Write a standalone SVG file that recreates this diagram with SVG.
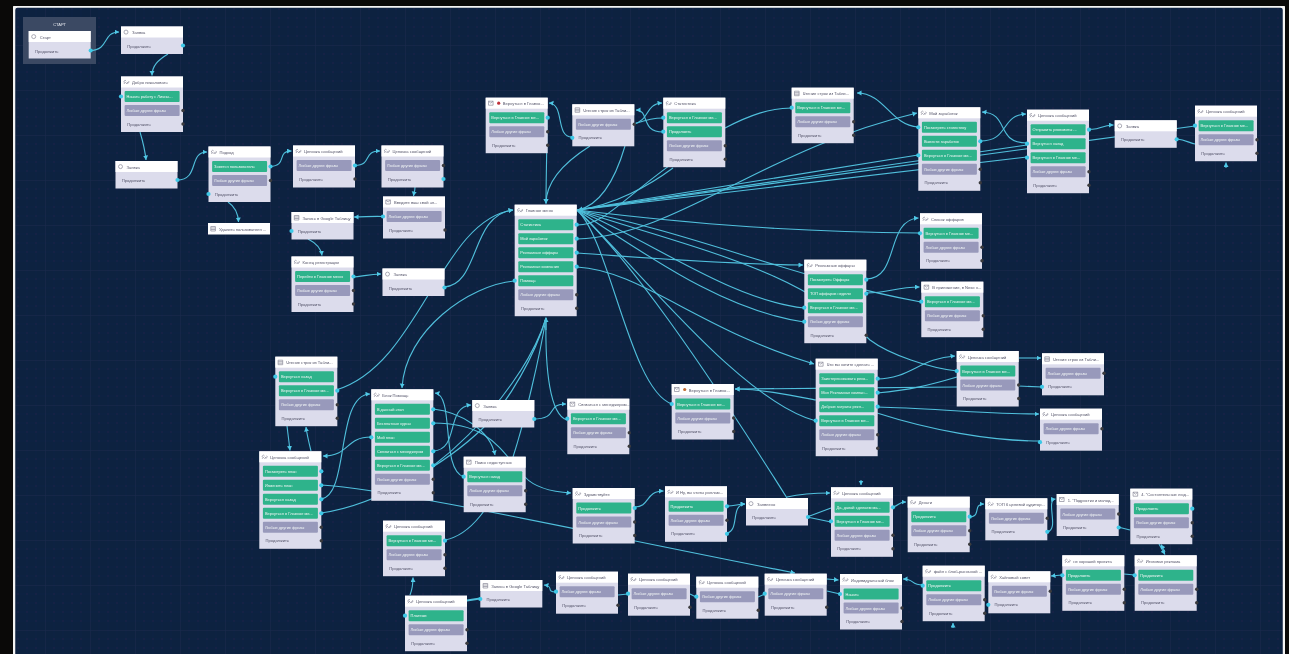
<svg xmlns="http://www.w3.org/2000/svg" width="1289" height="654" viewBox="0 0 1289 654">
<style>
.t{font:4.1px "Liberation Sans",Arial,sans-serif;fill:#55556a}
.b{font:3.95px "Liberation Sans",Arial,sans-serif;fill:#f2f6f6;transform:translateX(-1.4px)}
.k{font:4.1px "Liberation Sans",Arial,sans-serif;fill:#55556a;transform:translateX(-.7px)}
.d{fill:#3a3a3e;r:1.7px}
.c{fill:#3cc8e6;r:2.1px}
.l{fill:none;stroke:#4fc0dc;stroke-width:1.1}
.a{marker-end:url(#ar)}
.i{fill:none;stroke:#8a8a9a;stroke-width:.7}
</style>
<defs>
<pattern id="gr" width="45" height="45" patternUnits="userSpaceOnUse"><rect width="45" height="45" fill="#102241"/><path d="M9 0V45M18 0V45M27 0V45M36 0V45M0 9H45M0 18H45M0 27H45M0 36H45" stroke="#142746" stroke-width=".5"/><path d="M0 0V45M0 0H45" stroke="#1c3154" stroke-width=".6"/></pattern>
<filter id="bl" x="0" y="0" width="100%" height="100%"><feGaussianBlur stdDeviation=".42"/></filter>
<marker id="ar" markerUnits="userSpaceOnUse" markerWidth="6" markerHeight="6" refX="4.5" refY="2.5" orient="auto"><path d="M0 0L4.5 2.5L0 5z" fill="#4fc8e6"/></marker>
<g id="f0"><rect width="62" height="27.5" fill="#dcdcec"/><rect width="62" height="11" fill="#fff"/></g>
<g id="f1"><rect width="62" height="42" fill="#dcdcec"/><rect width="62" height="11" fill="#fff"/></g>
<g id="f2"><rect width="62" height="55.5" fill="#dcdcec"/><rect width="62" height="11" fill="#fff"/></g>
<g id="f3"><rect width="62" height="69.5" fill="#dcdcec"/><rect width="62" height="11" fill="#fff"/></g>
<g id="f4"><rect width="62" height="83.5" fill="#dcdcec"/><rect width="62" height="11" fill="#fff"/></g>
<g id="f5"><rect width="62" height="97.5" fill="#dcdcec"/><rect width="62" height="11" fill="#fff"/></g>
<g id="f6"><rect width="62" height="111.5" fill="#dcdcec"/><rect width="62" height="11" fill="#fff"/></g>
<rect id="g" x="3.6" width="55" height="11" rx="1" fill="#2fb38b"/>
<rect id="p" x="3.6" width="55" height="11" rx="1" fill="#9899bb"/>
<path id="il" class="i" d="M2.8 7.5L5 5.3M5 7.5L7 5.5M3.5 6.3a1.2 1.2 0 0 1 1.5-2.2M5.8 6.6a1.2 1.2 0 0 0 1.5-2.2"/>
<path id="it" class="i" d="M2.8 3.5h4.6v4.500h-4.600zM2.8 5h4.6M2.8 6.5h4.6"/>
<path id="im" class="i" d="M2.8 3.5h4.6v4h-4.600zM2.8 3.5l2.3 2l2.3-2"/>
<circle id="io" class="i" cx="5" cy="5.6" r="2"/>
</defs>
<rect width="1289" height="654" fill="#0a0908"/>
<g filter="url(#bl)">
<rect x="13.5" y="6" width="1271" height="670" rx="4" fill="url(#gr)" stroke="#f4f4f4" stroke-width="3.5"/>
<rect x="23" y="17" width="73" height="47" fill="#3b4a64"/>
<text x="59.5" y="25.5" text-anchor="middle" style="font:4px 'Liberation Sans',Arial,sans-serif;fill:#e6e8ee">СТАРТ</text>
<g id="connectors">
<path class="l a" d="M90 50.5C110 50 102 32 119 32"/>
<path class="l a" d="M168 54C158 60 152 66 152 75.5"/>
<path class="l a" d="M140 132C143 142 145 150 146 160"/>
<path class="l a" d="M177 180C200 180 188 152 207 152"/>
<path class="l a" d="M270 166.500C288 166 276 151 291.500 151"/>
<path class="l a" d="M355 165.500C373 165 362 151 380 151"/>
<path class="l a" d="M415 187C415 191 414 193 413.500 196"/>
<path class="l a" d="M383 216.500C372 216 365 217 354 217"/>
<path class="l a" d="M228 202C234 206 238 212 238.500 222"/>
<path class="l a" d="M308 239C316 243 321 248 322 255.500"/>
<path class="l a" d="M352 277C362 277 368 274 381 274"/>
<path class="l a" d="M336 390C420 365 440 220 513 210"/>
<path class="l a" d="M444 287C480 285 470 215 513 210"/>
<path class="l a" d="M514 281C470 285 405 330 402 388"/>
<path class="l a" d="M547 118C547 150 546 180 546 203.500"/>
<path class="l a" d="M572 137C555 137 565 104 549 103"/>
<path class="l a" d="M590 146C560 165 546 185 546 203.500"/>
<path class="l" d="M634 124C650 120 645 104 662 103" marker-end="url(#ar)"/>
<path class="l a" d="M663 132C640 132 650 110 636 110"/>
<path class="l" d="M663 118C650 118 640 122 634 124"/>
<path class="l" d="M725 128C750 115 770 108 792 108"/>
<path class="l" d="M577 225C610 225 625 190 725 128"/>
<path class="l a" d="M625 146C615 180 600 205 578 210"/>
<path class="l a" d="M673 168C650 185 615 205 578 210"/>
<path class="l a" d="M577 239C680 235 760 150 917 113"/>
<path class="l" d="M577 210L918 155"/>
<path class="l" d="M577 210L1027 145"/>
<path class="l" d="M577 210L1027 157"/>
<path class="l" d="M577 210L1195 126"/>
<path class="l a" d="M918 127C890 125 885 93 857 93"/>
<path class="l a" d="M980 141C1010 141 1000 115 1026 114"/>
<path class="l a" d="M1027 143C995 143 1010 113 982 112"/>
<path class="l a" d="M1089 129C1100 131 1100 125 1113.500 125"/>
<path class="l" d="M1177 139C1185 140 1190 143 1195 144"/>
<path class="l" d="M577 210C700 225 800 232 920 233"/>
<path class="l a" d="M866 279C900 279 885 220 918.500 218"/>
<path class="l a" d="M866 293C890 293 895 287 919.500 287"/>
<path class="l" d="M577 210C700 235 800 280 921 302"/>
<path class="l" d="M577 210C650 240 730 300 804 308"/>
<path class="l" d="M577 210C640 250 720 310 804 322"/>
<path class="l a" d="M577 253C650 258 720 264 803 265"/>
<path class="l a" d="M577 267C640 270 700 330 814 364"/>
<path class="l" d="M577 210C640 270 740 400 816 421"/>
<path class="l" d="M577 210C610 240 630 390 672 404"/>
<path class="l" d="M577 210C630 260 700 360 787 498"/>
<path class="l" d="M577 210C700 250 800 270 870 340C890 355 930 368 957 371"/>
<path class="l a" d="M546 330V317.500"/>
<path class="l" d="M433 466C480 430 530 370 546 318"/>
<path class="l" d="M321 513C380 505 450 460 483 428C510 400 535 355 546 318"/>
<path class="l" d="M445 540C470 535 490 510 513 457C525 420 540 355 546 318"/>
<path class="l" d="M567 420C550 415 545 370 546 318"/>
<path class="l a" d="M433 409C460 412 490 430 495 455"/>
<path class="l a" d="M433 423C490 423 500 450 525 477C535 488 555 492 571 493"/>
<path class="l a" d="M464 477C440 470 455 395 435 393"/>
<path class="l a" d="M433 451C460 450 445 407 471 405"/>
<path class="l a" d="M533 419C560 419 545 404 566 404"/>
<path class="l a" d="M371 437C345 437 350 456 323 456"/>
<path class="l a" d="M321 499C350 495 335 395 370 394"/>
<path class="l a" d="M287 426C288 434 289 442 290 450.500"/>
<path class="l a" d="M311 451C309 443 307 435 306 427"/>
<path class="l a" d="M321 485C400 490 600 535 795 573"/>
<path class="l a" d="M410 595C412 590 413 585 413 577.500"/>
<path class="l" d="M467 601L480 599M467 600L480 598" stroke-width="1.5"/>
<path class="l a" d="M556 592C545 592 555 586 544 585"/>
<path class="l" d="M618 595L628 594"/>
<path class="l" d="M690 594L696 597"/>
<path class="l" d="M758 597L765 594"/>
<path class="l a" d="M827 579L838.500 580"/>
<path class="l" d="M827 591L840 594"/>
<path class="l a" d="M923 585C910 585 915 579 903 579"/>
<path class="l a" d="M1062 575L1051 576"/>
<path class="l" d="M1135 575L1124 574"/>
<path class="l a" d="M1159 544L1165 554.500"/>
<path class="l a" d="M1165 552L1161 544.500"/>
<path class="l" d="M1130 530L1118 527"/>
<path class="l a" d="M1047 532C1060 530 1045 500 1055.500 499"/>
<path class="l a" d="M969 517C982 517 972 504 984 504"/>
<path class="l a" d="M893 507C900 505 898 502 906 502"/>
<path class="l" d="M807 517L831 508M807 517L831 522"/>
<path class="l a" d="M787 497C800 494 815 493 830 493"/>
<path class="l a" d="M727 506C735 506 738 504 745 504"/>
<path class="l a" d="M727 533C740 530 730 505 745 504"/>
<path class="l a" d="M635 507C650 507 645 491 663.500 491"/>
<path class="l a" d="M877 379C910 379 920 358 955 356"/>
<path class="l" d="M877 393C910 390 930 385 957 377"/>
<path class="l" d="M1019 386L1042 387" stroke-width="1.5"/>
<path class="l a" d="M1019 358L1041 358"/>
<path class="l a" d="M877 407C930 408 980 414 1039 414"/>
<path class="l" d="M877 413C930 430 990 441 1040 441"/>
<path class="l a" d="M957 387C900 387 800 389 735 389"/>
<path class="l a" d="M816 400C790 395 760 389 735 389"/>
<path class="l a" d="M1226 168V162.500"/>
<path class="l a" d="M861 480V485"/>
<path class="l a" d="M953 628V623"/>
</g>
<g id="n1" transform="translate(28.700 31)"><use href="#f0"/><use href="#io"/><text class="t" x="11" y="7.500">Старт</text><text class="k" x="7" y="21.500">Продолжить</text><circle class="c" cx="62" cy="19.500"/></g>
<g id="n2" transform="translate(121 26.500)"><use href="#f0"/><use href="#io"/><text class="t" x="11" y="7.500">Заявка</text><text class="k" x="7" y="21">Продолжить</text><circle class="c" cx="62" cy="19"/></g>
<g id="n3" transform="translate(121 76.500)"><use href="#f2"/><use href="#il"/><text class="t" x="11" y="7.500">Добро пожаловать</text><use href="#g" y="14.500"/><text class="b" x="7" y="21.700">Начать работу с Личны...</text><use href="#p" y="28.500"/><text class="b" x="7" y="35.700">Любые другие фразы</text><text class="k" x="7" y="49.200">Продолжить</text><circle class="c" cx="0" cy="20"/><circle class="d" cx="62" cy="34"/><circle class="d" cx="62" cy="47.500"/></g>
<g id="n4" transform="translate(115.500 161)"><use href="#f0"/><use href="#io"/><text class="t" x="11" y="7.500">Заявка</text><text class="k" x="7" y="21">Продолжить</text><circle class="c" cx="62" cy="19"/></g>
<g id="n5" transform="translate(208.500 146.500)"><use href="#f2"/><use href="#il"/><text class="t" x="11" y="7.500">Подход</text><use href="#g" y="14.500"/><text class="b" x="7" y="21.700">Зовется пользователь</text><use href="#p" y="28.500"/><text class="b" x="7" y="35.700">Любые другие фразы</text><text class="k" x="7" y="49.200">Продолжить</text><circle class="c" cx="62" cy="20"/><circle class="d" cx="62" cy="34"/><circle class="c" cx="0" cy="47.500"/></g>
<g id="n6" transform="translate(293 145.500)"><use href="#f1"/><use href="#il"/><text class="t" x="11" y="7.500">Цепочка сообщений</text><use href="#p" y="14.500"/><text class="b" x="7" y="21.700">Любые другие фразы</text><text class="k" x="7" y="35.200">Продолжить</text><circle class="c" cx="62" cy="20"/><circle class="d" cx="62" cy="33.500"/></g>
<g id="n7" transform="translate(381.500 145.500)"><use href="#f1"/><use href="#il"/><text class="t" x="11" y="7.500">Цепочка сообщений</text><use href="#p" y="14.500"/><text class="b" x="7" y="21.700">Любые другие фразы</text><text class="k" x="7" y="35.200">Продолжить</text><circle class="d" cx="62" cy="20"/><circle class="c" cx="62" cy="33.500"/></g>
<g id="n8" transform="translate(383 196.500)"><use href="#f1"/><use href="#im"/><text class="t" x="11" y="7.500">Введите ваш свой эл...</text><use href="#p" y="14.500"/><text class="b" x="7" y="21.700">Любые другие фразы</text><text class="k" x="7" y="35.200">Продолжить</text><circle class="c" cx="0" cy="20"/><circle class="d" cx="62" cy="33.500"/></g>
<g id="n9" transform="translate(208 223)"><rect width="62" height="11.500" fill="#fff"/><use href="#it"/><text class="t" x="11" y="7.500">Удалить пользователя ...</text></g>
<g id="n10" transform="translate(291.500 212)"><use href="#f0"/><use href="#it"/><text class="t" x="11" y="7.500">Запись в Google Таблицу</text><text class="k" x="7" y="21">Продолжить</text><circle class="c" cx="0" cy="19"/></g>
<g id="n11" transform="translate(291.500 256.500)"><use href="#f2"/><use href="#il"/><text class="t" x="11" y="7.500">Конец регистрации</text><use href="#g" y="14.500"/><text class="b" x="7" y="21.700">Перейти в Главное меню</text><use href="#p" y="28.500"/><text class="b" x="7" y="35.700">Любые другие фразы</text><text class="k" x="7" y="49.200">Продолжить</text><circle class="c" cx="62" cy="20"/><circle class="d" cx="62" cy="34"/><circle class="d" cx="62" cy="47.500"/></g>
<g id="n12" transform="translate(382.500 268.500)"><use href="#f0"/><use href="#io"/><text class="t" x="11" y="7.500">Заявка</text><text class="k" x="7" y="21">Продолжить</text><circle class="c" cx="62" cy="19"/></g>
<g id="n13" transform="translate(485.700 97.700)"><use href="#f2"/><use href="#im"/><circle cx="13" cy="5.500" r="1.600" fill="#c0303a"/><text class="t" x="17" y="7.500">Вернуться в Главно...</text><use href="#g" y="14.500"/><text class="b" x="7" y="21.700">Вернуться в Главное ме...</text><use href="#p" y="28.500"/><text class="b" x="7" y="35.700">Любые другие фразы</text><text class="k" x="7" y="49.200">Продолжить</text><circle class="c" cx="62" cy="20"/><circle class="d" cx="62" cy="34"/><circle class="d" cx="62" cy="47.500"/></g>
<g id="n14" transform="translate(572.300 104.300)"><use href="#f1"/><use href="#it"/><text class="t" x="11" y="7.500">Чтение строк из Табли...</text><use href="#p" y="14.500"/><text class="b" x="7" y="21.700">Любые другие фразы</text><text class="k" x="7" y="35.200">Продолжить</text><circle class="d" cx="62" cy="20"/><circle class="c" cx="0" cy="33.500"/></g>
<g id="n15" transform="translate(663.300 97.700)"><use href="#f3"/><use href="#il"/><text class="t" x="11" y="7.500">Статистика</text><use href="#g" y="14.500"/><text class="b" x="7" y="21.700">Вернуться в Главное ме...</text><use href="#g" y="28.500"/><text class="b" x="7" y="35.700">Продолжить</text><use href="#p" y="42.500"/><text class="b" x="7" y="49.700">Любые другие фразы</text><text class="k" x="7" y="63.200">Продолжить</text><circle class="c" cx="0" cy="20"/><circle class="c" cx="0" cy="34"/><circle class="d" cx="62" cy="48"/><circle class="d" cx="62" cy="61.500"/></g>
<g id="n16" transform="translate(791.700 87.700)"><use href="#f2"/><use href="#it"/><text class="t" x="11" y="7.500">Чтение строк из Табли...</text><use href="#g" y="14.500"/><text class="b" x="7" y="21.700">Вернуться в Главное ме...</text><use href="#p" y="28.500"/><text class="b" x="7" y="35.700">Любые другие фразы</text><text class="k" x="7" y="49.200">Продолжить</text><circle class="c" cx="0" cy="20"/><circle class="d" cx="62" cy="34"/><circle class="d" cx="62" cy="47.500"/></g>
<g id="n17" transform="translate(514.700 204.700)"><use href="#f6"/><use href="#il"/><text class="t" x="11" y="7.500">Главное меню</text><use href="#g" y="14.500"/><text class="b" x="7" y="21.700">Статистика</text><use href="#g" y="28.500"/><text class="b" x="7" y="35.700">Мой заработок</text><use href="#g" y="42.500"/><text class="b" x="7" y="49.700">Рекламные оффары</text><use href="#g" y="56.500"/><text class="b" x="7" y="63.700">Рекламная компания</text><use href="#g" y="70.500"/><text class="b" x="7" y="77.700">Помощь</text><use href="#p" y="84.500"/><text class="b" x="7" y="91.700">Любые другие фразы</text><text class="k" x="7" y="105.200">Продолжить</text><circle class="c" cx="62" cy="20"/><circle class="c" cx="62" cy="34"/><circle class="c" cx="62" cy="48"/><circle class="c" cx="62" cy="62"/><circle class="c" cx="0" cy="76"/><circle class="d" cx="62" cy="90"/><circle class="d" cx="62" cy="103.500"/></g>
<g id="n18" transform="translate(804.300 259.700)"><use href="#f4"/><use href="#il"/><text class="t" x="11" y="7.500">Рекламные оффары</text><use href="#g" y="14.500"/><text class="b" x="7" y="21.700">Посмотреть Оффары</text><use href="#g" y="28.500"/><text class="b" x="7" y="35.700">ТОП оффаров недели</text><use href="#g" y="42.500"/><text class="b" x="7" y="49.700">Вернуться в Главное ме...</text><use href="#p" y="56.500"/><text class="b" x="7" y="63.700">Любые другие фразы</text><text class="k" x="7" y="77.200">Продолжить</text><circle class="c" cx="62" cy="20"/><circle class="c" cx="62" cy="34"/><circle class="c" cx="0" cy="48"/><circle class="c" cx="0" cy="62"/><circle class="d" cx="62" cy="75.500"/></g>
<g id="n19" transform="translate(918.300 107.300)"><use href="#f4"/><use href="#il"/><text class="t" x="11" y="7.500">Мой заработок</text><use href="#g" y="14.500"/><text class="b" x="7" y="21.700">Посмотреть статистику</text><use href="#g" y="28.500"/><text class="b" x="7" y="35.700">Вывести заработок</text><use href="#g" y="42.500"/><text class="b" x="7" y="49.700">Вернуться в Главное ме...</text><use href="#p" y="56.500"/><text class="b" x="7" y="63.700">Любые другие фразы</text><text class="k" x="7" y="77.200">Продолжить</text><circle class="c" cx="0" cy="20"/><circle class="c" cx="62" cy="34"/><circle class="c" cx="0" cy="48"/><circle class="d" cx="62" cy="62"/><circle class="d" cx="62" cy="75.500"/></g>
<g id="n20" transform="translate(1027 109.700)"><use href="#f4"/><use href="#il"/><text class="t" x="11" y="7.500">Цепочка сообщений</text><use href="#g" y="14.500"/><text class="b" x="7" y="21.700">Отправить реквизиты ...</text><use href="#g" y="28.500"/><text class="b" x="7" y="35.700">Вернуться назад</text><use href="#g" y="42.500"/><text class="b" x="7" y="49.700">Вернуться в Главное ме...</text><use href="#p" y="56.500"/><text class="b" x="7" y="63.700">Любые другие фразы</text><text class="k" x="7" y="77.200">Продолжить</text><circle class="c" cx="62" cy="20"/><circle class="c" cx="0" cy="34"/><circle class="c" cx="0" cy="48"/><circle class="d" cx="62" cy="62"/><circle class="d" cx="62" cy="75.500"/></g>
<g id="n21" transform="translate(1114.700 120.300)"><use href="#f0"/><use href="#io"/><text class="t" x="11" y="7.500">Заявка</text><text class="k" x="7" y="21">Продолжить</text><circle class="c" cx="62" cy="19"/></g>
<g id="n22" transform="translate(1195 105.700)"><use href="#f2"/><use href="#il"/><text class="t" x="11" y="7.500">Цепочка сообщений</text><use href="#g" y="14.500"/><text class="b" x="7" y="21.700">Вернуться в Главное ме...</text><use href="#p" y="28.500"/><text class="b" x="7" y="35.700">Любые другие фразы</text><text class="k" x="7" y="49.200">Продолжить</text><circle class="c" cx="0" cy="20"/><circle class="d" cx="62" cy="34"/><circle class="d" cx="62" cy="47.500"/></g>
<g id="n23" transform="translate(920 213.300)"><use href="#f2"/><use href="#il"/><text class="t" x="11" y="7.500">Список оффаров</text><use href="#g" y="14.500"/><text class="b" x="7" y="21.700">Вернуться в Главное ме...</text><use href="#p" y="28.500"/><text class="b" x="7" y="35.700">Любые другие фразы</text><text class="k" x="7" y="49.200">Продолжить</text><circle class="c" cx="0" cy="20"/><circle class="d" cx="62" cy="34"/><circle class="d" cx="62" cy="47.500"/></g>
<g id="n24" transform="translate(921.300 281.700)"><use href="#f2"/><use href="#im"/><text class="t" x="11" y="7.500">В приложение, в Nexo н...</text><use href="#g" y="14.500"/><text class="b" x="7" y="21.700">Вернуться в Главное ме...</text><use href="#p" y="28.500"/><text class="b" x="7" y="35.700">Любые другие фразы</text><text class="k" x="7" y="49.200">Продолжить</text><circle class="c" cx="0" cy="20"/><circle class="d" cx="62" cy="34"/><circle class="d" cx="62" cy="47.500"/></g>
<g id="n25" transform="translate(275.300 356.700)"><use href="#f3"/><use href="#it"/><text class="t" x="11" y="7.500">Чтение строк из Табли...</text><use href="#g" y="14.500"/><text class="b" x="7" y="21.700">Вернуться назад</text><use href="#g" y="28.500"/><text class="b" x="7" y="35.700">Вернуться в Главное ме...</text><use href="#p" y="42.500"/><text class="b" x="7" y="49.700">Любые другие фразы</text><text class="k" x="7" y="63.200">Продолжить</text><circle class="c" cx="0" cy="20"/><circle class="c" cx="62" cy="34"/><circle class="d" cx="62" cy="48"/><circle class="d" cx="62" cy="61.500"/></g>
<g id="n26" transform="translate(371.300 389.300)"><use href="#f6"/><use href="#il"/><text class="t" x="11" y="7.500">Блок Помощь</text><use href="#g" y="14.500"/><text class="b" x="7" y="21.700">В данный этап</text><use href="#g" y="28.500"/><text class="b" x="7" y="35.700">Бесплатные курсы</text><use href="#g" y="42.500"/><text class="b" x="7" y="49.700">Мой план</text><use href="#g" y="56.500"/><text class="b" x="7" y="63.700">Связаться с менеджером</text><use href="#g" y="70.500"/><text class="b" x="7" y="77.700">Вернуться в Главное ме...</text><use href="#p" y="84.500"/><text class="b" x="7" y="91.700">Любые другие фразы</text><text class="k" x="7" y="105.200">Продолжить</text><circle class="c" cx="62" cy="20"/><circle class="c" cx="62" cy="34"/><circle class="c" cx="0" cy="48"/><circle class="c" cx="62" cy="62"/><circle class="c" cx="62" cy="76"/><circle class="d" cx="62" cy="90"/><circle class="d" cx="62" cy="103.500"/></g>
<g id="n27" transform="translate(472.300 400)"><use href="#f0"/><use href="#io"/><text class="t" x="11" y="7.500">Заявка</text><text class="k" x="7" y="21">Продолжить</text><circle class="c" cx="62" cy="19"/></g>
<g id="n28" transform="translate(567.300 398.700)"><use href="#f2"/><use href="#im"/><text class="t" x="11" y="7.500">Связаться с менеджером...</text><use href="#g" y="14.500"/><text class="b" x="7" y="21.700">Вернуться в Главное ме...</text><use href="#p" y="28.500"/><text class="b" x="7" y="35.700">Любые другие фразы</text><text class="k" x="7" y="49.200">Продолжить</text><circle class="c" cx="0" cy="20"/><circle class="d" cx="62" cy="34"/><circle class="d" cx="62" cy="47.500"/></g>
<g id="n29" transform="translate(259.300 451.300)"><use href="#f5"/><use href="#il"/><text class="t" x="11" y="7.500">Цепочка сообщений</text><use href="#g" y="14.500"/><text class="b" x="7" y="21.700">Посмотреть план</text><use href="#g" y="28.500"/><text class="b" x="7" y="35.700">Изменить план</text><use href="#g" y="42.500"/><text class="b" x="7" y="49.700">Вернуться назад</text><use href="#g" y="56.500"/><text class="b" x="7" y="63.700">Вернуться в Главное ме...</text><use href="#p" y="70.500"/><text class="b" x="7" y="77.700">Любые другие фразы</text><text class="k" x="7" y="91.200">Продолжить</text><circle class="c" cx="62" cy="20"/><circle class="c" cx="62" cy="34"/><circle class="c" cx="62" cy="48"/><circle class="c" cx="62" cy="62"/><circle class="d" cx="62" cy="76"/><circle class="d" cx="62" cy="89.500"/></g>
<g id="n30" transform="translate(463.700 456.700)"><use href="#f2"/><use href="#im"/><text class="t" x="11" y="7.500">Поиск недоступных</text><use href="#g" y="14.500"/><text class="b" x="7" y="21.700">Вернуться назад</text><use href="#p" y="28.500"/><text class="b" x="7" y="35.700">Любые другие фразы</text><text class="k" x="7" y="49.200">Продолжить</text><circle class="c" cx="0" cy="20"/><circle class="d" cx="62" cy="34"/><circle class="d" cx="62" cy="47.500"/></g>
<g id="n31" transform="translate(572.700 488)"><use href="#f2"/><use href="#il"/><text class="t" x="11" y="7.500">Здравствуйте</text><use href="#g" y="14.500"/><text class="b" x="7" y="21.700">Продолжить</text><use href="#p" y="28.500"/><text class="b" x="7" y="35.700">Любые другие фразы</text><text class="k" x="7" y="49.200">Продолжить</text><circle class="c" cx="62" cy="20"/><circle class="d" cx="62" cy="34"/><circle class="d" cx="62" cy="47.500"/></g>
<g id="n32" transform="translate(383 520.700)"><use href="#f2"/><use href="#il"/><text class="t" x="11" y="7.500">Цепочка сообщений</text><use href="#g" y="14.500"/><text class="b" x="7" y="21.700">Вернуться в Главное ме...</text><use href="#p" y="28.500"/><text class="b" x="7" y="35.700">Любые другие фразы</text><text class="k" x="7" y="49.200">Продолжить</text><circle class="c" cx="62" cy="20"/><circle class="d" cx="62" cy="34"/><circle class="d" cx="62" cy="47.500"/></g>
<g id="n33" transform="translate(405 595.700)"><use href="#f2"/><use href="#il"/><text class="t" x="11" y="7.500">Цепочка сообщений</text><use href="#g" y="14.500"/><text class="b" x="7" y="21.700">Платежи</text><use href="#p" y="28.500"/><text class="b" x="7" y="35.700">Любые другие фразы</text><text class="k" x="7" y="49.200">Продолжить</text><circle class="c" cx="0" cy="20"/><circle class="d" cx="62" cy="34"/><circle class="d" cx="62" cy="47.500"/></g>
<g id="n34" transform="translate(480.300 580)"><use href="#f0"/><use href="#it"/><text class="t" x="11" y="7.500">Запись в Google Таблицу</text><text class="k" x="7" y="21">Продолжить</text><circle class="c" cx="0" cy="19"/></g>
<g id="n35" transform="translate(556 571.700)"><use href="#f1"/><use href="#il"/><text class="t" x="11" y="7.500">Цепочка сообщений</text><use href="#p" y="14.500"/><text class="b" x="7" y="21.700">Любые другие фразы</text><text class="k" x="7" y="35.200">Продолжить</text><circle class="c" cx="0" cy="20"/><circle class="d" cx="62" cy="33.500"/></g>
<g id="n36" transform="translate(628 573.700)"><use href="#f1"/><use href="#il"/><text class="t" x="11" y="7.500">Цепочка сообщений</text><use href="#p" y="14.500"/><text class="b" x="7" y="21.700">Любые другие фразы</text><text class="k" x="7" y="35.200">Продолжить</text><circle class="c" cx="0" cy="20"/><circle class="d" cx="62" cy="33.500"/></g>
<g id="n37" transform="translate(696.300 576.700)"><use href="#f1"/><use href="#il"/><text class="t" x="11" y="7.500">Цепочка сообщений</text><use href="#p" y="14.500"/><text class="b" x="7" y="21.700">Любые другие фразы</text><text class="k" x="7" y="35.200">Продолжить</text><circle class="c" cx="0" cy="20"/><circle class="d" cx="62" cy="33.500"/></g>
<g id="n38" transform="translate(764.700 573.700)"><use href="#f1"/><use href="#il"/><text class="t" x="11" y="7.500">Цепочка сообщений</text><use href="#p" y="14.500"/><text class="b" x="7" y="21.700">Любые другие фразы</text><text class="k" x="7" y="35.200">Продолжить</text><circle class="c" cx="0" cy="20"/><circle class="d" cx="62" cy="33.500"/></g>
<g id="n39" transform="translate(840 574)"><use href="#f2"/><use href="#il"/><text class="t" x="11" y="7.500">Индивидуальный блок</text><use href="#g" y="14.500"/><text class="b" x="7" y="21.700">Начать</text><use href="#p" y="28.500"/><text class="b" x="7" y="35.700">Любые другие фразы</text><text class="k" x="7" y="49.200">Продолжить</text><circle class="c" cx="0" cy="20"/><circle class="d" cx="62" cy="34"/><circle class="d" cx="62" cy="47.500"/></g>
<g id="n40" transform="translate(671.700 384)"><use href="#f2"/><use href="#im"/><circle cx="13" cy="5.500" r="1.600" fill="#c06a30"/><text class="t" x="17" y="7.500">Вернуться в Главно...</text><use href="#g" y="14.500"/><text class="b" x="7" y="21.700">Вернуться в Главное ме...</text><use href="#p" y="28.500"/><text class="b" x="7" y="35.700">Любые другие фразы</text><text class="k" x="7" y="49.200">Продолжить</text><circle class="c" cx="0" cy="20"/><circle class="d" cx="62" cy="34"/><circle class="d" cx="62" cy="47.500"/></g>
<g id="n41" transform="translate(815.700 358.700)"><use href="#f5"/><use href="#im"/><text class="t" x="11" y="7.500">Что вы хотите сделать ...</text><use href="#g" y="14.500"/><text class="b" x="7" y="21.700">Заинтересовывать реко...</text><use href="#g" y="28.500"/><text class="b" x="7" y="35.700">Моя Рекламная компан...</text><use href="#g" y="42.500"/><text class="b" x="7" y="49.700">Добрые затраты рекл...</text><use href="#g" y="56.500"/><text class="b" x="7" y="63.700">Вернуться в Главное ме...</text><use href="#p" y="70.500"/><text class="b" x="7" y="77.700">Любые другие фразы</text><text class="k" x="7" y="91.200">Продолжить</text><circle class="c" cx="62" cy="20"/><circle class="c" cx="62" cy="34"/><circle class="c" cx="62" cy="48"/><circle class="c" cx="0" cy="62"/><circle class="d" cx="62" cy="76"/><circle class="d" cx="62" cy="89.500"/></g>
<g id="n42" transform="translate(956.700 351)"><use href="#f2"/><use href="#il"/><text class="t" x="11" y="7.500">Цепочка сообщений</text><use href="#g" y="14.500"/><text class="b" x="7" y="21.700">Вернуться в Главное ме...</text><use href="#p" y="28.500"/><text class="b" x="7" y="35.700">Любые другие фразы</text><text class="k" x="7" y="49.200">Продолжить</text><circle class="c" cx="0" cy="20"/><circle class="d" cx="62" cy="34"/><circle class="d" cx="62" cy="47.500"/></g>
<g id="n43" transform="translate(1042 353.300)"><use href="#f1"/><use href="#it"/><text class="t" x="11" y="7.500">Чтение строк из Табли...</text><use href="#p" y="14.500"/><text class="b" x="7" y="21.700">Любые другие фразы</text><text class="k" x="7" y="35.200">Продолжить</text><circle class="d" cx="62" cy="20"/><circle class="c" cx="0" cy="33.500"/></g>
<g id="n44" transform="translate(1040 408.700)"><use href="#f1"/><use href="#il"/><text class="t" x="11" y="7.500">Цепочка сообщений</text><use href="#p" y="14.500"/><text class="b" x="7" y="21.700">Любые другие фразы</text><text class="k" x="7" y="35.200">Продолжить</text><circle class="d" cx="62" cy="20"/><circle class="c" cx="0" cy="33.500"/></g>
<g id="n45" transform="translate(665 486.300)"><use href="#f2"/><use href="#il"/><text class="t" x="11" y="7.500">И Ну, вы чтоты роллам...</text><use href="#g" y="14.500"/><text class="b" x="7" y="21.700">Продолжить</text><use href="#p" y="28.500"/><text class="b" x="7" y="35.700">Любые другие фразы</text><text class="k" x="7" y="49.200">Продолжить</text><circle class="c" cx="62" cy="20"/><circle class="d" cx="62" cy="34"/><circle class="c" cx="62" cy="47.500"/></g>
<g id="n46" transform="translate(746 498)"><use href="#f0"/><use href="#io"/><text class="t" x="11" y="7.500">Заявлено</text><text class="k" x="7" y="21">Продолжить</text><circle class="c" cx="62" cy="19"/></g>
<g id="n47" transform="translate(831 487.300)"><use href="#f3"/><use href="#il"/><text class="t" x="11" y="7.500">Цепочка сообщений</text><use href="#g" y="14.500"/><text class="b" x="7" y="21.700">Да, давай сделаем ма...</text><use href="#g" y="28.500"/><text class="b" x="7" y="35.700">Вернуться в Главное ме...</text><use href="#p" y="42.500"/><text class="b" x="7" y="49.700">Любые другие фразы</text><text class="k" x="7" y="63.200">Продолжить</text><circle class="c" cx="62" cy="20"/><circle class="c" cx="0" cy="34"/><circle class="d" cx="62" cy="48"/><circle class="d" cx="62" cy="61.500"/></g>
<g id="n48" transform="translate(907.700 496.700)"><use href="#f2"/><use href="#il"/><text class="t" x="11" y="7.500">Деньги</text><use href="#g" y="14.500"/><text class="b" x="7" y="21.700">Продолжить</text><use href="#p" y="28.500"/><text class="b" x="7" y="35.700">Любые другие фразы</text><text class="k" x="7" y="49.200">Продолжить</text><circle class="c" cx="62" cy="20"/><circle class="d" cx="62" cy="34"/><circle class="d" cx="62" cy="47.500"/></g>
<g id="n49" transform="translate(985.300 498.300)"><use href="#f1"/><use href="#il"/><text class="t" x="11" y="7.500">ТОП 6 целевой аудитор...</text><use href="#p" y="14.500"/><text class="b" x="7" y="21.700">Любые другие фразы</text><text class="k" x="7" y="35.200">Продолжить</text><circle class="d" cx="62" cy="20"/><circle class="c" cx="62" cy="33.500"/></g>
<g id="n50" transform="translate(1056.700 494)"><use href="#f1"/><use href="#im"/><text class="t" x="11" y="7.500">1. "Подростки и молод...</text><use href="#p" y="14.500"/><text class="b" x="7" y="21.700">Любые другие фразы</text><text class="k" x="7" y="35.200">Продолжить</text><circle class="d" cx="62" cy="20"/><circle class="c" cx="62" cy="33.500"/></g>
<g id="n51" transform="translate(1130.300 488.700)"><use href="#f2"/><use href="#im"/><text class="t" x="11" y="7.500">4. "Состоятельные люд...</text><use href="#g" y="14.500"/><text class="b" x="7" y="21.700">Продолжить</text><use href="#p" y="28.500"/><text class="b" x="7" y="35.700">Любые другие фразы</text><text class="k" x="7" y="49.200">Продолжить</text><circle class="c" cx="62" cy="20"/><circle class="d" cx="62" cy="34"/><circle class="d" cx="62" cy="47.500"/></g>
<g id="n52" transform="translate(1134.700 555.300)"><use href="#f2"/><use href="#il"/><text class="t" x="11" y="7.500">Итоговая реклама</text><use href="#g" y="14.500"/><text class="b" x="7" y="21.700">Продолжить</text><use href="#p" y="28.500"/><text class="b" x="7" y="35.700">Любые другие фразы</text><text class="k" x="7" y="49.200">Продолжить</text><circle class="c" cx="0" cy="20"/><circle class="d" cx="62" cy="34"/><circle class="d" cx="62" cy="47.500"/></g>
<g id="n53" transform="translate(1062.300 555.300)"><use href="#f2"/><use href="#il"/><text class="t" x="11" y="7.500">не хорошей проекта</text><use href="#g" y="14.500"/><text class="b" x="7" y="21.700">Продолжить</text><use href="#p" y="28.500"/><text class="b" x="7" y="35.700">Любые другие фразы</text><text class="k" x="7" y="49.200">Продолжить</text><circle class="c" cx="0" cy="20"/><circle class="d" cx="62" cy="34"/><circle class="d" cx="62" cy="47.500"/></g>
<g id="n54" transform="translate(988.300 571.300)"><use href="#f1"/><use href="#il"/><text class="t" x="11" y="7.500">Хайповый совет</text><use href="#p" y="14.500"/><text class="b" x="7" y="21.700">Любые другие фразы</text><text class="k" x="7" y="35.200">Продолжить</text><circle class="d" cx="62" cy="20"/><circle class="c" cx="0" cy="33.500"/></g>
<g id="n55" transform="translate(922.700 565.700)"><use href="#f2"/><use href="#il"/><text class="t" x="11" y="7.500">файл с блоб-рыночной ...</text><use href="#g" y="14.500"/><text class="b" x="7" y="21.700">Продолжить</text><use href="#p" y="28.500"/><text class="b" x="7" y="35.700">Любые другие фразы</text><text class="k" x="7" y="49.200">Продолжить</text><circle class="c" cx="0" cy="20"/><circle class="d" cx="62" cy="34"/><circle class="d" cx="62" cy="47.500"/></g>
</g>
</svg>
